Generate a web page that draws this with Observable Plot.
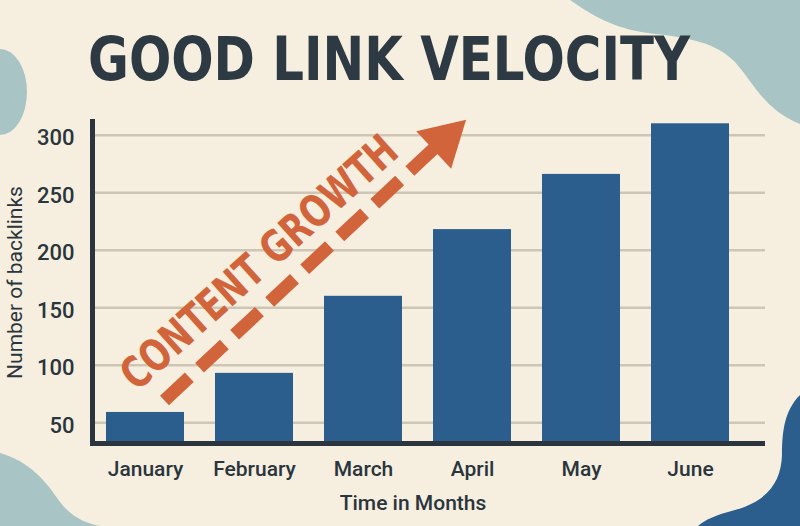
<!DOCTYPE html>
<html>
<head>
<meta charset="utf-8">
<script src="https://cdn.jsdelivr.net/npm/d3@7"></script>
<script src="https://cdn.jsdelivr.net/npm/@observablehq/plot@0.6"></script>
<style>
  html, body { margin: 0; padding: 0; background: #f6efdf; }
  #wrap { position: relative; width: 800px; height: 526px; overflow: hidden; background: #f6efdf; }
  #bg, #chart, #title { position: absolute; left: 0; top: 0; }
</style>
</head>
<body>
<div id="wrap">
  <svg id="bg" width="800" height="526">
    <path d="M570 0 C592 15 612 28 648 33 C690 38 715 42 735 62 C755 85 765 110 800 124 L800 0 Z" fill="#a8c4c4"/>
    <ellipse cx="0" cy="92" rx="27" ry="43" fill="#a8c4c4"/>
    <path d="M0 453 C30 462 45 480 60 502 C72 518 88 524 100 526 L0 526 Z" fill="#a8c4c4"/>
    <path d="M800 395 C785 410 782 430 782 455 C781 480 770 500 735 510 C715 515 705 520 698 526 L800 526 Z" fill="#2c5e8d"/>
  </svg>
  <div id="chart"></div>
  <svg id="title" width="800" height="110">
    <text x="88" y="80" textLength="602" lengthAdjust="spacingAndGlyphs"
      font-family="'DejaVu Sans Condensed', 'DejaVu Sans', sans-serif" font-stretch="condensed"
      font-weight="bold" font-size="60" fill="#2d3a43">GOOD LINK VELOCITY</text>
  </svg>
</div>
<script>
// ---- data ----
const months = ["January", "February", "March", "April", "May", "June"];
const backlinks = [59, 93, 160, 218, 266, 310];
const yTicks = [50, 100, 150, 200, 250, 300];
const yDomain = [32, 312];

// annotation (in data terms)
const arrowMonths = ["January", "April"];
const arrowValues = [54, 320];
const arrowHeadMonths = ["April"];
const arrowHeadValues = [296];
const annotationMonths = ["February"];
const annotationValues = [189];
const annotationLabels = ["CONTENT GROWTH"];

const orange = "#d2643b";
const dark = "#2a353d";

const data = months.map((m, i) => ({month: m, value: backlinks[i]}));
const arrowData = [{x1: arrowMonths[0], y1: arrowValues[0], x2: arrowMonths[1], y2: arrowValues[1]}];
const headData = arrowHeadMonths.map((m, i) => ({month: m, value: arrowHeadValues[i]}));
const labelData = annotationMonths.map((m, i) => ({month: m, value: annotationValues[i], label: annotationLabels[i]}));

const chart = Plot.plot({
  width: 800,
  height: 526,
  marginTop: 121,
  marginBottom: 83,
  marginLeft: 92,
  marginRight: 35,
  style: {background: "transparent", fontFamily: "Roboto, 'Noto Sans', sans-serif", color: dark, overflow: "visible"},
  x: {domain: months, paddingInner: 0.288, paddingOuter: 0.217, align: 0.27},
  y: {domain: yDomain},
  marks: [
    Plot.gridY(yTicks, {stroke: "#cec6b5", strokeOpacity: 1, strokeWidth: 2.5}),
    Plot.barY(data, {x: "month", y1: yDomain[0], y2: "value", fill: "#2c5e8d"}),
    Plot.ruleY([yDomain[0]], {stroke: dark, strokeWidth: 5}),
    Plot.frame({anchor: "left", stroke: dark, strokeWidth: 5}),
    Plot.axisY(yTicks, {tickSize: 0, tickPadding: 18, fontSize: 22, fontWeight: 500, dy: 3, label: null}),
    Plot.axisX({tickSize: 0, tickPadding: 18, fontSize: 21, fontWeight: 500, label: null}),
    Plot.text(["Number of backlinks"], {frameAnchor: "left", textAnchor: "middle", dx: -77, rotate: -90, fontSize: 21, lineAnchor: "middle", fill: dark}),
    Plot.text(["Time in Months"], {frameAnchor: "bottom", dy: 60, dx: -16, fontSize: 21, fontWeight: 500, lineAnchor: "middle", fill: dark}),
    Plot.arrow(arrowData, {x1: "x1", y1: "y1", x2: "x2", y2: "y2", stroke: orange, strokeWidth: 13,
      strokeDasharray: "34,14", strokeLinecap: "butt", headLength: 0, insetStart: 26, insetEnd: 35}),
    Plot.dot(headData, {x: "month", y: "value", symbol: "triangle", r: 19, rotate: 47, fill: orange, stroke: "none", dx: -28}),
    Plot.text(labelData, {x: "month", y: "value", text: "label", rotate: -42, dx: 5, fontSize: 44, fontWeight: "bold",
      fontFamily: "'DejaVu Sans Condensed', 'DejaVu Sans', sans-serif", fill: orange, lineAnchor: "middle"})
  ]
});

document.getElementById("chart").appendChild(chart);

// fit annotation text length along the arrow
chart.querySelectorAll("text").forEach((t) => {
  if (t.textContent === "CONTENT GROWTH") {
    t.setAttribute("textLength", "355");
    t.setAttribute("lengthAdjust", "spacingAndGlyphs");
  }
});
</script>
</body>
</html>
